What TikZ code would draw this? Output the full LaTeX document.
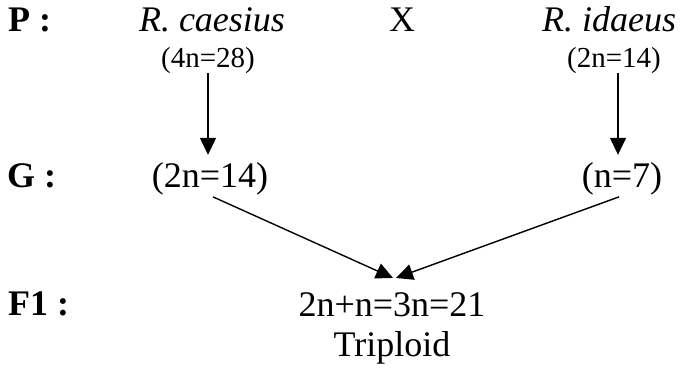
\documentclass[tikz,border=0pt]{standalone}
\usepackage{fontspec}
\setmainfont{Liberation Serif}
\usetikzlibrary{arrows.meta}
\begin{document}
\begin{tikzpicture}[x=1pt,y=-1pt,
  big/.style={inner sep=0pt,anchor=base,font=\fontsize{36}{40}\selectfont},
  lab/.style={inner sep=0pt,anchor=base west,font=\fontsize{36}{40}\selectfont\bfseries},
  small/.style={inner sep=0pt,anchor=base,font=\fontsize{29}{33}\selectfont},
  conn/.style={line width=1.4pt,-{Triangle[length=17pt,width=16pt]}}]
\useasboundingbox (0,0) rectangle (687,372);
% row labels
\node[lab] (P) at (8,31) {P :};
\node[lab] (G) at (7,187) {G :};
\node[lab] (F) at (8,315) {F1 :};
% parents
\node[big,font=\fontsize{36}{40}\selectfont\itshape] (rc) at (212,31) {R. caesius};
\node[big] (x) at (402,31) {X};
\node[big,font=\fontsize{36}{40}\selectfont\itshape] (ri) at (609,31) {R. idaeus};
\node[small] (c4) at (208,67) {(4n=28)};
\node[small] (i2) at (614,67) {(2n=14)};
% gametes
\node[big] (g1) at (210,187) {(2n=14)};
\node[big] (g2) at (622,187) {(n=7)};
% F1
\node[big] (f1) at (392,316) {2n+n=3n=21};
\node[big] (tr) at (392,356) {Triploid};
% connectors
\draw[conn] (c4.south) -- ([yshift=7pt]c4.south |- g1.north);
\draw[conn] ([xshift=4pt]i2.south) -- ([xshift=4pt,yshift=7pt]i2.south |- g2.north);
\draw[conn] ([xshift=3pt,yshift=-2pt]g1.south) -- ([xshift=1pt,yshift=14pt]f1.north);
\draw[conn] ([xshift=-3pt,yshift=-2pt]g2.south) -- ([xshift=4pt,yshift=14pt]f1.north);
\end{tikzpicture}
\end{document}
